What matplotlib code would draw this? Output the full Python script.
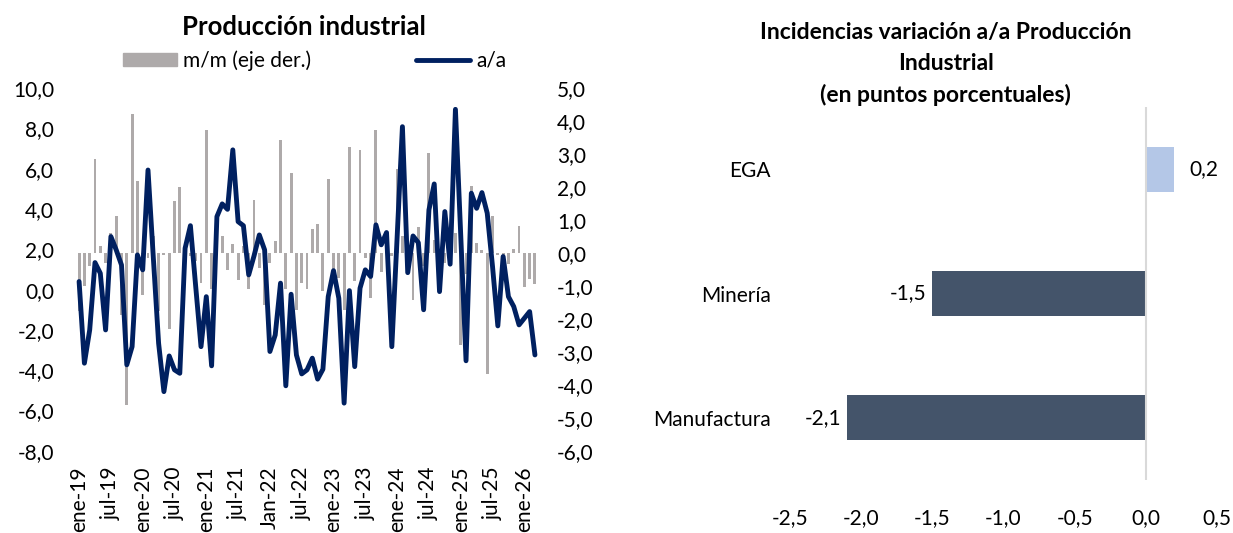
import matplotlib

matplotlib.use("Agg")
import matplotlib.pyplot as plt
from matplotlib.lines import Line2D
from matplotlib.patches import Patch
from matplotlib.ticker import FuncFormatter

plt.rcParams["font.family"] = ["Lato", "DejaVu Sans"]

# --- Producción industrial: monthly, ene-19 .. mar-26 ---
aa = [0.4, -3.65, -2.0, 1.34, 0.81, -2.0, 2.63, 1.97, 1.22, -3.73, -2.83, 1.72,
      0.98, 5.93, 1.6, -2.66, -5.06, -3.29, -3.98, -4.15, 2.05, 3.17, 0.15, -2.83,
      -0.35, -3.78, 3.62, 4.25, 3.98, 6.93, 3.37, 3.17, 0.73, 1.67, 2.71, 1.97,
      -3.07, -2.25, 0.32, -4.77, -0.23, -3.24, -4.18, -3.98, -3.4, -4.44, -3.95, -0.35,
      0.94, -0.43, -5.63, -0.05, -3.82, 0.07, 0.98, 0.65, 3.21, 2.22, 2.83, -2.83,
      2.6, 8.08, 0.84, 2.66, 2.33, -1.0, 3.95, 5.24, -0.1, 3.87, 1.26, 8.94,
      2.7, -3.53, 4.78, 4.03, 4.81, 3.79, 1.14, -1.8, 1.64, -0.35, -0.84, -1.75,
      -1.42, -1.09, -3.24]
mm = [-1.77, -1.0, -0.4, 2.86, 0.2, -0.3, 0.6, 1.13, -1.87, -4.62, 4.22, 2.17,
      -1.26, -0.15, 0.5, -1.77, -0.05, -2.32, 1.57, 1.99, 0.2, -0.1, -0.25, -0.9,
      3.74, -1.1, 0.3, 0.5, -0.52, 0.28, -0.83, 0.2, -1.1, 1.6, -0.45, -1.57,
      -0.3, 0.37, 3.43, -1.1, 2.42, -1.72, -0.9, -1.1, 0.73, 0.89, -1.14, 2.24,
      -0.56, -0.76, -1.74, 3.2, -0.86, 3.11, -0.15, -1.36, 3.74, -0.58, 0.3, -0.1,
      2.53, 0.5, -0.2, -1.44, 0.79, -0.4, 3.03, 0.4, -0.56, -0.3, 0.5, 0.6,
      -2.78, -0.65, 2.04, 0.3, 0.1, -3.66, 1.11, -0.05, -0.35, -0.35, 0.13, 0.83,
      -1.03, -0.78, -0.93]
xlabels = ["ene-19", "jul-19", "ene-20", "jul-20", "ene-21", "jul-21", "Jan-22",
           "jul-22", "ene-23", "jul-23", "ene-24", "jul-24", "ene-25", "jul-25",
           "ene-26"]

# --- Incidencias (pp) ---
sectors = ["EGA", "Minería", "Manufactura"]
incid = [0.2, -1.5, -2.1]
incid_colors = ["#B4C7E7", "#44546A", "#44546A"]

NAVY = "#002060"
GRAY = "#AEAAAA"
FS = 15


def comma(fmt):
    return FuncFormatter(lambda v, p: fmt.format(v).replace(".", ","))


fig = plt.figure(figsize=(12.33, 5.33), dpi=100)

# left chart
ax1 = fig.add_axes([0.062, 0.154, 0.374, 0.681])
ax2 = ax1.twinx()
n = len(aa)
x = list(range(n))
ax2.bar(x, mm, width=0.55, color=GRAY)
ax1.plot(x, aa, color=NAVY, lw=3.5, solid_joinstyle="round", solid_capstyle="round")
ax1.set_zorder(ax2.get_zorder() + 1)
ax1.patch.set_visible(False)

ax1.set_xlim(-0.5, n - 0.5)
ax1.set_ylim(-8, 10)
ax2.set_ylim(-6, 5)
ax1.set_yticks(range(-8, 11, 2))
ax2.set_yticks(range(-6, 6))
ax1.yaxis.set_major_formatter(comma("{:.1f}"))
ax2.yaxis.set_major_formatter(comma("{:.1f}"))
ax1.set_xticks(range(0, n, 6))
ax1.set_xticklabels(xlabels, rotation=90)
ax1.tick_params(axis="x", length=0, pad=11, labelsize=FS)
ax1.tick_params(axis="y", length=0, pad=16, labelsize=FS)
ax2.tick_params(axis="y", length=0, pad=14, labelsize=FS)
for a in (ax1, ax2):
    for s in a.spines.values():
        s.set_visible(False)

fig.text(0.2462, 1 - 27 / 533, "Producción industrial", ha="center", va="center",
         fontsize=18.5, fontweight="bold")
handles = [Patch(color=GRAY), Line2D([0], [0], color=NAVY, lw=3.5, solid_capstyle="round")]
fig.legend(handles, ["m/m (eje der.)", "a/a"], ncol=2, frameon=False,
           loc="center left", bbox_to_anchor=(123 / 1233, 1 - 60.5 / 533),
           borderpad=0, borderaxespad=0, handlelength=2.6, handleheight=0.55,
           handletextpad=0.3, columnspacing=5.0, fontsize=FS)

# right chart
ax3 = fig.add_axes([0.6407, 0.0994, 0.3463, 0.6998])
y = list(range(len(sectors)))
bars = ax3.barh(y, incid, height=0.36, color=incid_colors)
ax3.axvline(0, color="#D9D9D9", lw=1.5)
ax3.set_xlim(-2.5, 0.5)
ax3.set_ylim(len(sectors) - 0.5, -0.5)
ax3.set_xticks([-2.5, -2.0, -1.5, -1.0, -0.5, 0.0, 0.5])
ax3.xaxis.set_major_formatter(comma("{:.1f}"))
ax3.set_yticks(y)
ax3.set_yticklabels(sectors)
ax3.tick_params(axis="x", length=0, pad=20, labelsize=FS)
ax3.tick_params(axis="y", length=0, pad=14, labelsize=FS)
for s in ax3.spines.values():
    s.set_visible(False)
for b, v in zip(bars, incid):
    lab = f"{v:.1f}".replace(".", ",")
    if v >= 0:
        ax3.annotate(lab, (v, b.get_y() + b.get_height() / 2), xytext=(11, 0),
                     textcoords="offset points", ha="left", va="center", fontsize=FS)
    else:
        ax3.annotate(lab, (v, b.get_y() + b.get_height() / 2), xytext=(-4, 0),
                     textcoords="offset points", ha="right", va="center", fontsize=FS)

fig.text(0.767, 1 - 64 / 533,
         "Incidencias variación a/a Producción\nIndustrial\n(en puntos porcentuales)",
         ha="center", va="center", fontsize=16.5, fontweight="bold", linespacing=1.55)

fig.savefig("out.png", dpi=100)
